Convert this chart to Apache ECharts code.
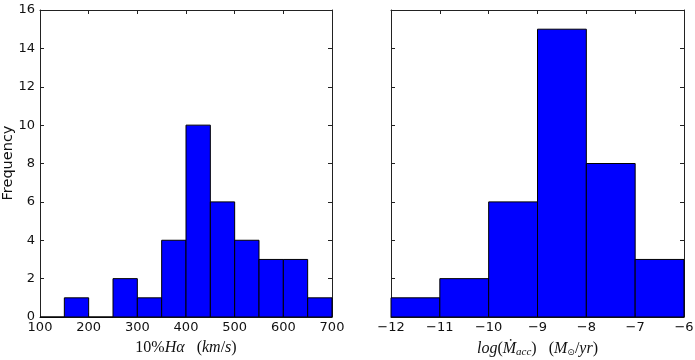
<!DOCTYPE html>
<html><head><meta charset="utf-8">
<script src="https://cdn.jsdelivr.net/npm/echarts@6/dist/echarts.min.js"></script>
<style>html,body{margin:0;padding:0;background:#fff}#c{width:695px;height:360px}</style>
</head><body><div id="c"></div>
<script>
// Left histogram: 10% H-alpha width (km/s)
const haBinStarts = [100,150,200,250,300,350,400,450,500,550,600,650];
const haBinEnds   = [150,200,250,300,350,400,450,500,550,600,650,700];
const haCounts    = [0,1,0,2,1,4,10,6,4,3,3,1];
// Right histogram: log(Mdot_acc)
const mdBinStarts = [-12,-11,-10,-9,-8,-7];
const mdBinEnds   = [-11,-10,-9,-8,-7,-6];
const mdCounts    = [1,2,6,15,8,3];
const yTicks = [0,2,4,6,8,10,12,14,16];

const chart = echarts.init(document.getElementById('c'));
const axCol = '#222';
const tickFont = {fontFamily:'DejaVu Sans', fontSize:13, color:'#111'};

function renderHist(params, api){
  const s = api.coord([api.value(0), api.value(2)]);
  const e = api.coord([api.value(1), 0]);
  return {type:'rect', shape:{x:s[0], y:s[1], width:e[0]-s[0], height:e[1]-s[1]},
    style:{fill:'#0000ff', stroke:'#000', lineWidth:1}};
}
function mk(starts, ends, counts){ return starts.map((s,i)=>[s, ends[i], counts[i]]); }

function xAx(grid, min, max, interval, pos, labels, name, nameRich, gap){
  return {type:'value', gridIndex:grid, min:min, max:max, interval:interval, position:pos,
    axisLine:{show:true, onZero:false, lineStyle:{color:axCol, width:1}},
    axisTick:{show:true, inside:true, length:4, lineStyle:{color:axCol}},
    axisLabel:{show:labels, margin:4, ...tickFont, formatter:v=>String(v).replace('-','\u2212')},
    splitLine:{show:false},
    name:name||'', nameLocation:'middle', nameGap:gap||23, nameTextStyle:nameRich||{}};
}
function yAx(grid, pos, labels){
  return {type:'value', gridIndex:grid, min:0, max:16, interval:2, position:pos,
    axisLine:{show:true, onZero:false, lineStyle:{color:axCol, width:1}},
    axisTick:{show:true, inside:true, length:4, lineStyle:{color:axCol}},
    axisLabel:{show:labels, margin:5, ...tickFont},
    splitLine:{show:false}};
}

const serif = 'Liberation Serif';
const leftName = {
  fontSize:16, fontFamily:serif, color:'#111',
  rich:{
    n:{fontFamily:serif, fontSize:16, color:'#111'},
    i:{fontFamily:serif, fontSize:16, fontStyle:'italic', color:'#111'}
  }
};
const rightName = {
  fontSize:16, fontFamily:serif, color:'#111',
  rich:{
    n:{fontFamily:serif, fontSize:16, color:'#111'},
    i:{fontFamily:serif, fontSize:16, fontStyle:'italic', color:'#111'},
    s:{fontFamily:serif, fontSize:11, fontStyle:'italic', color:'#111', padding:[8,0,0,0]},
    o:{fontFamily:'DejaVu Sans', fontSize:9, color:'#111', padding:[8,0,0,0]}
  }
};

chart.setOption({
  animation:false,
  grid:[
    {left:40, top:10, width:292, height:307, containLabel:false, outerBoundsMode:'none'},
    {left:391, top:10, width:293, height:307, containLabel:false, outerBoundsMode:'none'}
  ],
  xAxis:[
    xAx(0,100,700,100,'bottom',true,'{n|10%}{i|Hα}{n|   (}{i|km}{n|/}{i|s}{n|)}', leftName, 23),
    xAx(0,100,700,100,'top',false),
    xAx(1,-12,-6,1,'bottom',true,'{i|log}{n|(}{i|Ṁ}{s|acc}{n|)   (}{i|M}{o|⊙}{n|/}{i|yr}{n|)}', rightName, 22),
    xAx(1,-12,-6,1,'top',false)
  ],
  yAxis:[
    yAx(0,'left',true), yAx(0,'right',false),
    yAx(1,'left',false), yAx(1,'right',false)
  ],
  graphic:[{type:'text', rotation:Math.PI/2, x:8, y:163,
    style:{text:'Frequency', font:'14.5px "DejaVu Sans"', fill:'#111', align:'center', verticalAlign:'middle'}}],
  series:[
    {type:'custom', xAxisIndex:0, yAxisIndex:0, renderItem:renderHist, data:mk(haBinStarts,haBinEnds,haCounts), encode:{x:[0,1], y:2}},
    {type:'custom', xAxisIndex:2, yAxisIndex:2, renderItem:renderHist, data:mk(mdBinStarts,mdBinEnds,mdCounts), encode:{x:[0,1], y:2}}
  ]
});
</script></body></html>
